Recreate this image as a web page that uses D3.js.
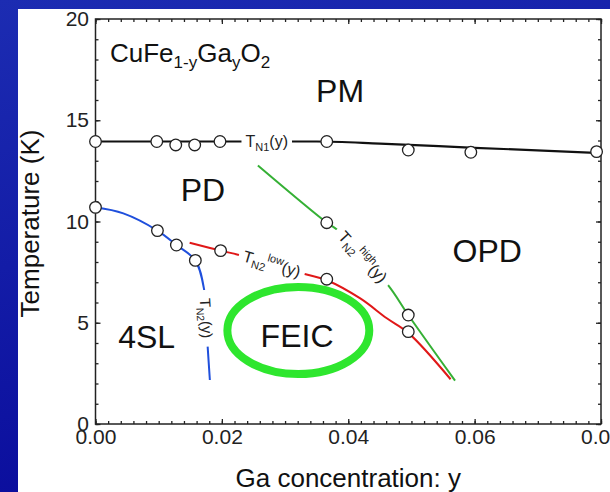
<!DOCTYPE html>
<html>
<head>
<meta charset="utf-8">
<script src="https://cdn.jsdelivr.net/npm/d3@7"></script>
<style>
  body { margin: 0; background: #fff; }
  svg { display: block; font-family: "Liberation Sans", Arial, Helvetica, sans-serif; }
</style>
</head>
<body>
<svg id="chart" width="610" height="492"></svg>
<script>
// ---------- data (y = Ga concentration, T in K) ----------
const tn1Points = [[0, 13.95], [0.0097, 13.95], [0.0127, 13.78], [0.0157, 13.78], [0.0197, 13.95],
                   [0.0366, 13.95], [0.0495, 13.53], [0.0594, 13.42], [0.0793, 13.45]];
const tn1Fit = [[0, 13.95], [0.035, 13.95], [0.045, 13.85], [0.06, 13.64], [0.08, 13.38]];

const tn2Points = [[0, 10.7], [0.0098, 9.55], [0.0128, 8.84], [0.0158, 8.08]];
const tn2Fit = [[0, 10.7], [0.0044, 10.4], [0.0098, 9.55], [0.0128, 8.84], [0.0158, 8.08],
                [0.0172, 6.62], [0.01775, 3.82], [0.0181, 2.17]];

const lowPoints = [[0.0198, 8.56], [0.0366, 7.15], [0.0495, 4.56]];
const lowFit = [[0.0149, 8.95], [0.0198, 8.56], [0.0227, 8.35], [0.0331, 7.41], [0.0366, 7.1],
                [0.0419, 6.2], [0.0461, 5.22], [0.0495, 4.5], [0.0562, 2.21]];

const highPoints = [[0.0366, 9.94], [0.0495, 5.38]];
const highFit = [[0.0257, 12.76], [0.0366, 9.94], [0.0382, 9.61], [0.0463, 6.86], [0.0495, 5.38], [0.0569, 2.14]];

const xTicks = [0, 0.02, 0.04, 0.06, 0.08];
const yTicks = [0, 5, 10, 15, 20];

const phaseNames = ["PM", "PD", "OPD", "4SL", "FEIC"];
const phaseAt = [[0.0387, 15.9], [0.0170, 11.0], [0.0620, 8.0], [0.0081, 3.74], [0.0319, 3.80]];

// FEIC ellipse: centre and half-axes in data units
const feicCentre = [0.0321, 4.62];
const feicHalf = [0.01123, 2.15];

// ---------- layout ----------
const svg = d3.select("#chart");
const padL = 95.5, padR = 601, padT = 19, padB = 424;

const x = d3.scaleLinear().domain([0, 0.08]).range([padL, padR]);
const y = d3.scaleLinear().domain([0, 20]).range([padB, padT]);

// slide background
const defs = svg.append("defs");
const grad = defs.append("linearGradient").attr("id", "bg")
  .attr("x1", 0).attr("y1", 0).attr("x2", 0.3).attr("y2", 1);
grad.append("stop").attr("offset", 0).attr("stop-color", "#1c2cb2");
grad.append("stop").attr("offset", 1).attr("stop-color", "#0a0c9c");
svg.append("rect").attr("width", 610).attr("height", 492).attr("fill", "url(#bg)");
svg.append("rect").attr("x", 18).attr("y", 9).attr("width", 592).attr("height", 483).attr("fill", "#fff");

// ---------- axes ----------
function noDomain(g) { g.select(".domain").remove(); }
const xMinor = d3.range(0, 0.0801, 0.002);
const yMinor = d3.range(0, 21, 1);

svg.append("g").attr("transform", `translate(0,${padB})`)
  .call(d3.axisBottom(x).tickValues(xMinor).tickSize(-3).tickFormat(""))
  .call(noDomain);
svg.append("g").attr("transform", `translate(0,${padB})`)
  .call(d3.axisBottom(x).tickValues(xTicks).tickSize(-5).tickPadding(5).tickFormat(d3.format(".2f")))
  .call(noDomain);
svg.append("g").attr("transform", `translate(0,${padT})`)
  .call(d3.axisTop(x).tickValues(xMinor).tickSize(-3).tickFormat(""))
  .call(noDomain);
svg.append("g").attr("transform", `translate(0,${padT})`)
  .call(d3.axisTop(x).tickValues(xTicks).tickSize(-5).tickFormat(""))
  .call(noDomain);

svg.append("g").attr("transform", `translate(${padL},0)`)
  .call(d3.axisLeft(y).tickValues(yMinor).tickSize(-3).tickFormat(""))
  .call(noDomain);
svg.append("g").attr("transform", `translate(${padL},0)`)
  .call(d3.axisLeft(y).tickValues(yTicks).tickSize(-5).tickPadding(6.5).tickFormat(d3.format("d")))
  .call(noDomain);
svg.append("g").attr("transform", `translate(${padR},0)`)
  .call(d3.axisRight(y).tickValues(yMinor).tickSize(-3).tickFormat(""))
  .call(noDomain);
svg.append("g").attr("transform", `translate(${padR},0)`)
  .call(d3.axisRight(y).tickValues(yTicks).tickSize(-5).tickFormat(""))
  .call(noDomain);

svg.selectAll(".tick line").attr("stroke", "#222").attr("stroke-width", 1.3);
svg.selectAll(".tick text").attr("font-size", 21).attr("fill", "#222")
  .attr("font-family", "Liberation Sans, Arial, sans-serif");

svg.append("rect")
  .attr("x", padL).attr("y", padT).attr("width", padR - padL).attr("height", padB - padT)
  .attr("fill", "none").attr("stroke", "#222").attr("stroke-width", 1.5);

// axis titles
svg.append("text")
  .attr("transform", `translate(38.5,${(padT + padB) / 2 + 2}) rotate(-90)`)
  .attr("text-anchor", "middle").attr("font-size", 26).attr("fill", "#111")
  .text("Temperature (K)");
svg.append("text")
  .attr("x", (padL + padR) / 2).attr("y", 487)
  .attr("text-anchor", "middle").attr("font-size", 26).attr("fill", "#111")
  .text("Ga concentration: y");

// ---------- FEIC ellipse ----------
svg.append("ellipse")
  .attr("cx", x(feicCentre[0])).attr("cy", y(feicCentre[1]))
  .attr("rx", x(feicCentre[0] + feicHalf[0]) - x(feicCentre[0]))
  .attr("ry", y(feicCentre[1] - feicHalf[1]) - y(feicCentre[1]))
  .attr("fill", "none").attr("stroke", "#2ee62e").attr("stroke-width", 8);

// ---------- phase lines ----------
const line = d3.line().x(d => x(d[0])).y(d => y(d[1]));

const curves = [
  { fit: tn1Fit, color: "#111", width: 2.2, curve: d3.curveMonotoneX },
  { fit: tn2Fit, color: "#1f4fdc", width: 2, curve: d3.curveCatmullRom },
  { fit: lowFit, color: "#e01818", width: 2, curve: d3.curveCatmullRom },
  { fit: highFit, color: "#35b035", width: 2, curve: d3.curveCatmullRom },
];
curves.forEach(c => {
  svg.append("path")
    .attr("d", line.curve(c.curve)(c.fit))
    .attr("fill", "none").attr("stroke", c.color).attr("stroke-width", c.width);
});

// ---------- line labels (white gap cut in the line) ----------
const lineLabels = [
  { from: [0.0231, 13.95], to: [0.0311, 13.95], parts: [["T", 0, 16], ["N1", 4, 11], ["(y)", -4, 16]] },
  { from: [0.0227, 8.35], to: [0.0331, 7.41], parts: [["T", 0, 16], ["N2", 4, 11], ["low", -11, 11], ["(y)", 7, 16]] },
  { from: [0.0382, 9.61], to: [0.0463, 6.86], parts: [["T", 0, 16], ["N2", 4, 11], ["high", -11, 11], ["(y)", 7, 16]] },
  { from: [0.0172, 6.62], to: [0.01775, 3.82], parts: [["T", 0, 15], ["N2", 4, 10.5], ["(y)", -4, 15]] },
];
lineLabels.forEach(l => {
  const x1 = x(l.from[0]), y1 = y(l.from[1]), x2 = x(l.to[0]), y2 = y(l.to[1]);
  const len = Math.hypot(x2 - x1, y2 - y1);
  const ang = Math.atan2(y2 - y1, x2 - x1) * 180 / Math.PI;
  const g = svg.append("g")
    .attr("transform", `translate(${(x1 + x2) / 2},${(y1 + y2) / 2}) rotate(${ang})`);
  g.append("rect").attr("x", -len / 2).attr("y", -5).attr("width", len).attr("height", 10).attr("fill", "#fff");
  const t = g.append("text").attr("text-anchor", "middle").attr("y", 5).attr("fill", "#222");
  l.parts.forEach(p => t.append("tspan").attr("dy", p[1]).attr("font-size", p[2]).text(p[0]));
});

// ---------- data points ----------
[tn1Points, tn2Points, lowPoints, highPoints].forEach(pts => {
  svg.append("g").selectAll("circle").data(pts).join("circle")
    .attr("cx", d => x(d[0])).attr("cy", d => y(d[1])).attr("r", 5.8)
    .attr("fill", "#fff").attr("stroke", "#222").attr("stroke-width", 1.3);
});

// ---------- phase names ----------
svg.append("g").selectAll("text").data(phaseNames).join("text")
  .attr("x", (d, i) => x(phaseAt[i][0])).attr("y", (d, i) => y(phaseAt[i][1]))
  .attr("text-anchor", "middle").attr("font-size", 32).attr("fill", "#111")
  .text(d => d);

// compound name
const title = svg.append("text").attr("x", 110).attr("y", 62).attr("fill", "#111").attr("font-size", 26);
[["CuFe", 0, 26], ["1-y", 6, 17], ["Ga", -6, 26], ["y", 6, 17], ["O", -6, 26], ["2", 6, 17]]
  .forEach(p => title.append("tspan").attr("dy", p[1]).attr("font-size", p[2]).text(p[0]));
</script>
</body>
</html>
